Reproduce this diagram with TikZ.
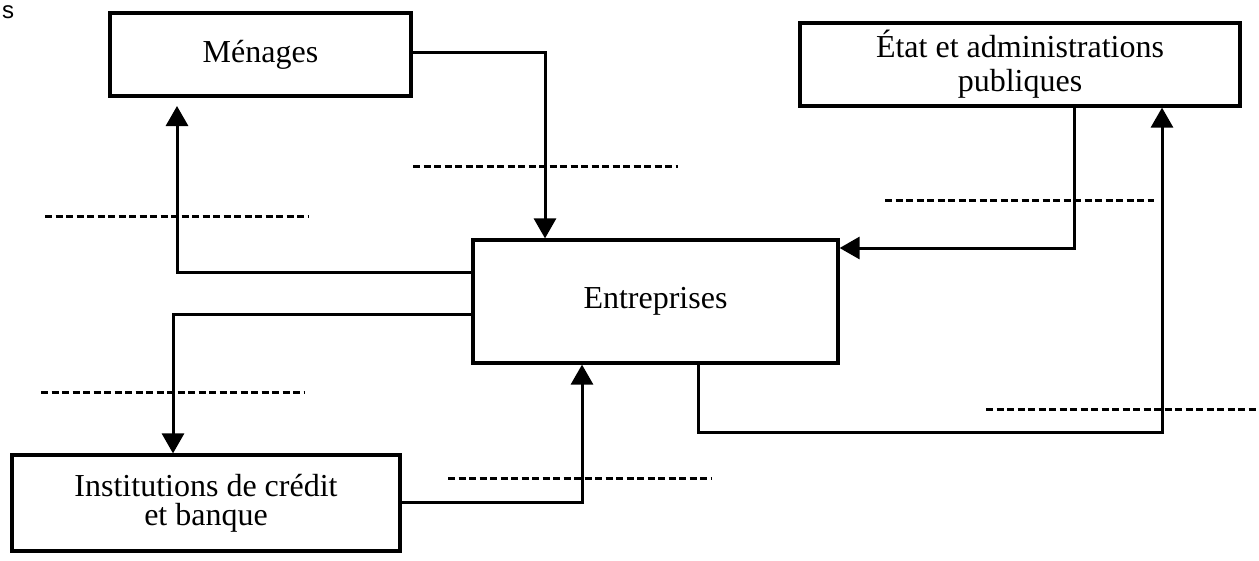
\documentclass[tikz,border=0pt]{standalone}
\usepackage{fontspec}
\setmainfont{Liberation Serif}
\newfontfamily\sansf{Liberation Sans}
\usetikzlibrary{arrows.meta}
\begin{document}
\begin{tikzpicture}[x=1pt,y=-1pt,
 box/.style={draw,line width=3.2pt,inner sep=0pt,align=center,font=\fontsize{32}{34}\selectfont},
 flow/.style={line width=3pt,-{Triangle[length=20pt,width=22pt]}},
 blank/.style={line width=3pt,dash pattern=on 7pt off 3.5pt}]
\useasboundingbox (0,0) rectangle (1259,560);
\node[font=\sansf\fontsize{24}{24}\selectfont,anchor=base west,inner sep=0pt] (s) at (2,18) {s};
\node[box,minimum width=301pt,minimum height=83pt] (men) at (260.5,54.5) {Ménages};
\node[box,minimum width=440pt,minimum height=83pt] (etat) at (1020,64.5) {État et administrations\\publiques};
\node[box,minimum width=365pt,minimum height=123pt] (ent) at (655.5,301.5) {Entreprises};
\node[box,minimum width=388pt,minimum height=96pt,font=\fontsize{32}{29}\selectfont] (inst) at (206,503) {Institutions de crédit\\et banque};
% connectors
\coordinate (p1) at (545,52);
\draw[flow] (men.east |- p1) -- (p1) -- (p1 |- ent.north);
\coordinate (p2) at (177,272);
\coordinate (t2) at (177,106);
\draw[flow] (ent.west |- p2) -- (p2) -- (t2);
\coordinate (p3) at (173,314);
\draw[flow] (ent.west |- p3) -- (p3) -- (p3 |- inst.north);
\coordinate (p4) at (582,502);
\draw[flow] (inst.east |- p4) -- (p4) -- (p4 |- ent.south);
\coordinate (p5) at (1074,248);
\draw[flow] (p5 |- etat.south) -- (p5) -- (ent.east |- p5);
\coordinate (p6a) at (698,432);
\coordinate (p6b) at (1162,432);
\draw[flow] (p6a |- ent.south) -- (p6a) -- (p6b) -- (p6b |- etat.south);
% blanks
\coordinate (d1a) at (413,166); \coordinate (d1b) at (678,166);
\draw[blank] (d1a) -- (d1b);
\coordinate (d2a) at (45,216); \coordinate (d2b) at (309,216);
\draw[blank] (d2a) -- (d2b);
\coordinate (d3a) at (885,200); \coordinate (d3b) at (1154,200);
\draw[blank] (d3a) -- (d3b);
\coordinate (d4a) at (41,392); \coordinate (d4b) at (305,392);
\draw[blank] (d4a) -- (d4b);
\coordinate (d5a) at (448,478); \coordinate (d5b) at (712,478);
\draw[blank] (d5a) -- (d5b);
\coordinate (d6a) at (986,409); \coordinate (d6b) at (1256,409);
\draw[blank] (d6a) -- (d6b);
\end{tikzpicture}
\end{document}
